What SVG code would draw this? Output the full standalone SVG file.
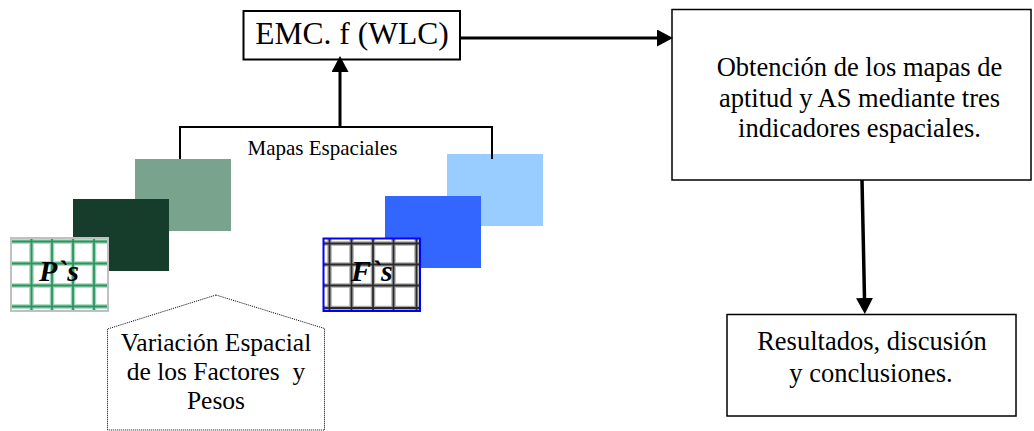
<svg xmlns="http://www.w3.org/2000/svg" width="1034" height="431" viewBox="0 0 1034 431">
<defs>
<style>
text{font-family:"Liberation Serif","Times New Roman",serif;fill:#000}
.box{fill:#fff;stroke:#000;stroke-width:1.5}
.lbl{font-size:26.5px;text-anchor:middle}
.var{font-size:25.5px;text-anchor:middle}
.grid-t{font-size:30px;font-weight:bold;font-style:italic}
.conn{fill:none;stroke:#000}
.ghalo{fill:none;stroke:#9fd2b5;stroke-width:4.5}
.gcore{fill:none;stroke:#2a9560;stroke-width:1.8}
.khalo{fill:none;stroke:#aaaaaa;stroke-width:4.5}
.kcore{fill:none;stroke:#2a2a2a;stroke-width:1.8}
</style>
<marker id="ah" markerUnits="userSpaceOnUse" markerWidth="16" markerHeight="17" viewBox="0 0 15 16" refX="0" refY="8" orient="auto">
<polygon points="0,0 15,8 0,16" fill="#000"/>
</marker>
</defs>
<rect width="1034" height="431" fill="#fff"/>

<g id="pesos-maps">
<rect x="135" y="159" width="96" height="72" fill="#7aa38e"/>
<rect x="73" y="199" width="96" height="72" fill="#163c2b"/>
<g id="ps-grid">
<rect x="11" y="238" width="97" height="73" fill="#fff"/>
<path class="ghalo" d="M31.5,238V311M52,238V311M73,238V311M94,238V311M11,241.5H108M11,263.5H108M11,285.5H108M11,306.5H108"/>
<path class="gcore" d="M31.5,238V311M52,238V311M73,238V311M94,238V311M11,241.5H108M11,263.5H108M11,285.5H108M11,306.5H108"/>
<rect x="11" y="238" width="97" height="73" fill="none" stroke="#c0c0c0" stroke-width="2"/>
<text class="grid-t" x="39" y="280.5">P`s</text>
</g>
</g>

<g id="factores-maps">
<rect x="447" y="154" width="96" height="72" fill="#99ccff"/>
<rect x="385" y="196" width="96" height="72" fill="#3366ff"/>
<g id="fs-grid">
<rect x="323.5" y="238.5" width="96.5" height="72.5" fill="#fff"/>
<path class="khalo" d="M329.5,238.5V311M351.5,238.5V311M373,238.5V311M393.5,238.5V311M416.5,238.5V311M323.5,243.5H420M323.5,264.5H420M323.5,285.5H420M323.5,308H420"/>
<path class="kcore" d="M329.5,238.5V311M351.5,238.5V311M373,238.5V311M393.5,238.5V311M416.5,238.5V311M323.5,243.5H420M323.5,264.5H420M323.5,285.5H420M323.5,308H420"/>
<rect x="323.5" y="238.5" width="96.5" height="72.5" fill="none" stroke="#0000ff" stroke-width="2"/>
<text class="grid-t" x="351" y="280.5">F`s</text>
</g>
</g>

<g id="variacion">
<path d="M216,295 L107.5,329 V430 H324.5 V328.5 Z" fill="#fff" stroke="#000" stroke-width="1" stroke-dasharray="1,1"/>
<text class="var" x="216" y="350.5">Variación Espacial</text>
<text class="var" x="216" y="379.5">de los Factores&#160; y</text>
<text class="var" x="216" y="408.5">Pesos</text>
</g>

<g id="emc">
<rect x="243.5" y="11" width="216.5" height="48.5" fill="#fff" stroke="#000" stroke-width="2"/>
<text x="352" y="43.5" font-size="31.5" text-anchor="middle">EMC. f (WLC)</text>
</g>

<g id="obtencion">
<rect class="box" x="672" y="9.5" width="359" height="170.5"/>
<text class="lbl" x="859.5" y="76">Obtención de los mapas de</text>
<text class="lbl" x="859.5" y="107">aptitud y AS mediante tres</text>
<text class="lbl" x="859.5" y="137">indicadores espaciales.</text>
</g>

<g id="resultados">
<rect class="box" x="727" y="314.5" width="289" height="101.5"/>
<text class="lbl" x="872" y="350">Resultados, discusión</text>
<text class="lbl" x="871" y="381.5">y conclusiones.</text>
</g>

<g id="connectors">
<path class="conn" stroke-width="2" d="M180,159V127H492V159"/>
<text x="247.5" y="155" font-size="21">Mapas Espaciales</text>
<path class="conn" stroke-width="3" d="M340,127V72" marker-end="url(#ah)"/>
<path class="conn" stroke-width="3" d="M461,38H657" marker-end="url(#ah)"/>
<path class="conn" stroke-width="3.5" d="M862,180L864.5,298" marker-end="url(#ah)"/>
</g>
</svg>
